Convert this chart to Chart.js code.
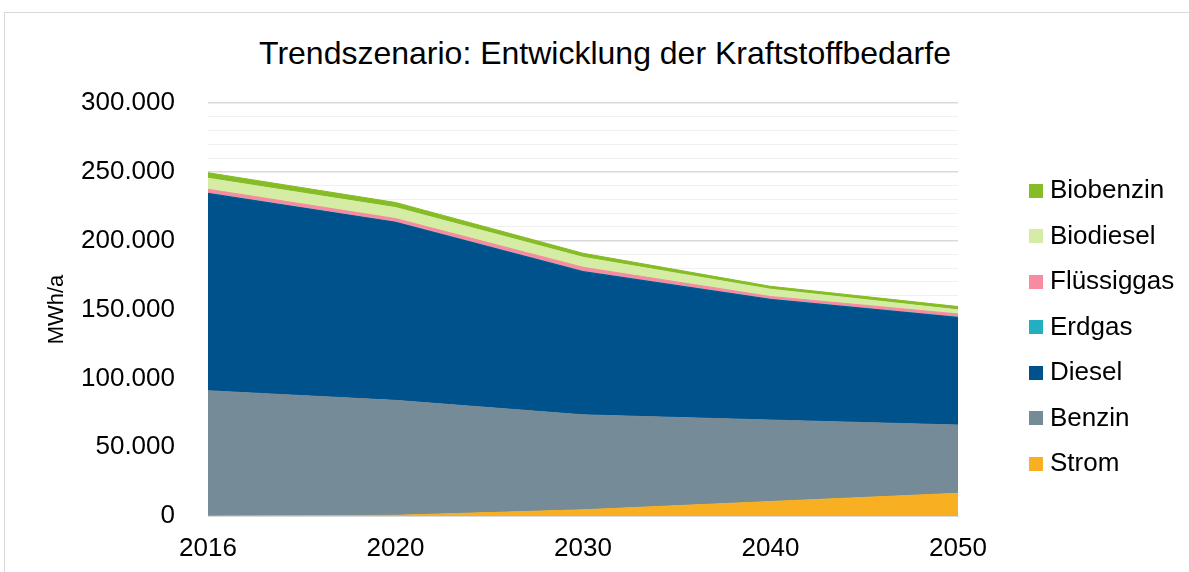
<!DOCTYPE html>
<html lang="de">
<head>
<meta charset="utf-8">
<title>Trendszenario: Entwicklung der Kraftstoffbedarfe</title>
<script src="https://cdn.jsdelivr.net/npm/chart.js@4/dist/chart.umd.min.js"></script>
<style>
    html, body {
        margin: 0;
        padding: 0;
        background: #ffffff;
        overflow: hidden;
    }
    body {
        width: 1189px;
        height: 572px;
        position: relative;
        font-family: "Liberation Sans", Arial, sans-serif;
        color: #000000;
    }
    #rahmen {
        position: absolute;
        left: 4px;
        top: 12px;
        width: 1200px;
        height: 600px;
        border: 1px solid #d9d9d9;
        box-sizing: border-box;
    }
    #titel {
        position: absolute;
        left: 0;
        width: 1210px;
        top: 34px;
        text-align: center;
        font-size: 32px;
        line-height: 38px;
        white-space: nowrap;
    }
    #chart-box {
        position: absolute;
        left: 0;
        top: 0;
        width: 1189px;
        height: 572px;
    }
    #legende {
        position: absolute;
        left: 1029px;
        top: 167px;
        margin: 0;
        padding: 0;
        list-style: none;
    }
    #legende li {
        height: 45.5px;
        display: flex;
        align-items: center;
        font-size: 26px;
    }
    #legende .box {
        width: 14px;
        height: 14px;
        margin-right: 7px;
        margin-top: 2px;
    }
</style>
</head>
<body>
<div id="rahmen"></div>
<div id="titel">Trendszenario: Entwicklung der Kraftstoffbedarfe</div>
<div id="chart-box"><canvas id="chart-kraftstoff" width="1189" height="572"></canvas></div>
<ul id="legende"></ul>

<script>
// Jahre und Kraftstoffbedarfe in MWh/a
const jahre = ['2016', '2020', '2030', '2040', '2050'];

const strom       = [0, 500, 4500, 10500, 16500];
const benzin      = [91000, 83500, 69000, 59200, 49600];
const diesel      = [143300, 129300, 104000, 87600, 78100];
const erdgas      = [150, 150, 150, 150, 150];
const fluessiggas = [2900, 2600, 3000, 2000, 2400];
const biodiesel   = [8000, 8000, 7300, 5300, 3000];
const biobenzin   = [4000, 3700, 2900, 2100, 2400];

const yMax = 300000;
const yStep = 10000;
const yLabelStep = 50000;

// Reihenfolge von unten nach oben im Stapel
const reihen = [
    { label: 'Strom',      data: strom,       color: '#f8b022' },
    { label: 'Benzin',     data: benzin,      color: '#758b97' },
    { label: 'Diesel',     data: diesel,      color: '#00528d' },
    { label: 'Erdgas',     data: erdgas,      color: '#23afc1' },
    { label: 'Flüssiggas', data: fluessiggas, color: '#f78ba0' },
    { label: 'Biodiesel',  data: biodiesel,   color: '#d4eca3' },
    { label: 'Biobenzin',  data: biobenzin,   color: '#86bc25' }
];

const fontFamily = '"Liberation Sans", Arial, sans-serif';

// Tausenderpunkt wie in Excel (deutsch)
function formatZahl(v) {
    return String(v).replace(/\B(?=(\d{3})+(?!\d))/g, '.');
}

function createChart() {
    const ctx = document.getElementById('chart-kraftstoff');

    new Chart(ctx, {
        type: 'line',
        data: {
            labels: jahre,
            datasets: reihen.map((r, i) => ({
                label: r.label,
                data: r.data,
                backgroundColor: r.color,
                borderColor: r.color,
                borderWidth: 1,
                pointRadius: 0,
                pointHoverRadius: 0,
                tension: 0,
                fill: i === 0 ? 'origin' : '-1'
            }))
        },
        options: {
            responsive: false,
            animation: false,
            layout: {
                padding: { left: 0, right: 231, top: 103, bottom: 0 }
            },
            plugins: {
                legend: { display: false },
                title: { display: false },
                tooltip: { enabled: false }
            },
            scales: {
                x: {
                    offset: false,
                    grid: {
                        display: false,
                        drawTicks: false
                    },
                    border: {
                        display: true,
                        color: '#d9d9d9',
                        width: 1
                    },
                    ticks: {
                        color: '#000000',
                        padding: 17,
                        maxRotation: 0,
                        font: { family: fontFamily, size: 26 }
                    },
                    afterFit: function(scale) {
                        scale.height = 56;
                    }
                },
                y: {
                    stacked: true,
                    min: 0,
                    max: yMax,
                    border: { display: false },
                    grid: {
                        drawTicks: false,
                        color: function(c) {
                            return c.tick && c.tick.value % yLabelStep === 0 ? '#d9d9d9' : '#f0f0f0';
                        },
                        lineWidth: function(c) {
                            return c.tick && c.tick.value % yLabelStep === 0 ? 1.5 : 1;
                        }
                    },
                    ticks: {
                        stepSize: yStep,
                        autoSkip: false,
                        color: '#000000',
                        padding: 33,
                        font: { family: fontFamily, size: 26 },
                        callback: function(value) {
                            return value % yLabelStep === 0 ? formatZahl(value) : '';
                        }
                    },
                    title: {
                        display: true,
                        text: 'MWh/a',
                        color: '#000000',
                        padding: { top: 44, bottom: 0 },
                        font: { family: fontFamily, size: 22 }
                    },
                    afterFit: function(scale) {
                        scale.width = 208;
                    }
                }
            }
        }
    });
}

// Legende oben beginnend mit der obersten Reihe
function buildLegende() {
    const ul = document.getElementById('legende');
    reihen.slice().reverse().forEach(r => {
        const li = document.createElement('li');
        const box = document.createElement('span');
        box.className = 'box';
        box.style.background = r.color;
        li.appendChild(box);
        li.appendChild(document.createTextNode(r.label));
        ul.appendChild(li);
    });
}

buildLegende();
createChart();
</script>
</body>
</html>
